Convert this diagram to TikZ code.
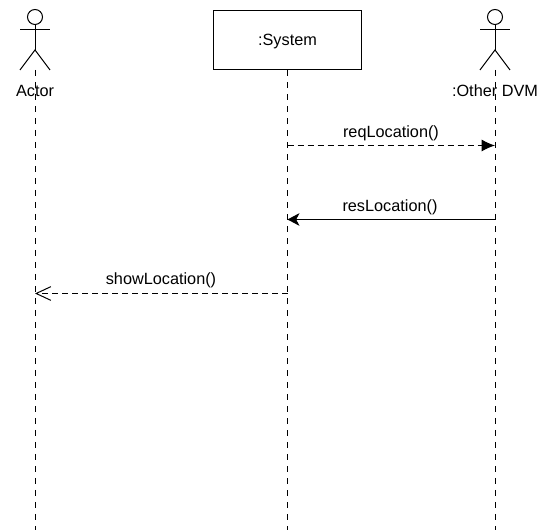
\documentclass[tikz,border=0pt]{standalone}
\usepackage{fontspec}
\setmainfont{Liberation Sans}
\usetikzlibrary{arrows.meta}
\tikzset{
    lifeline/.style={dashed, dash pattern=on 4.5pt off 4.5pt},
    msgtext/.style={font=\fontsize{12.2}{14}\selectfont, inner sep=0pt},
    reqarrow/.style={dashed, dash pattern=on 4.5pt off 3pt, -{Latex[length=10pt,width=9pt]}},
    resarrow/.style={-{Stealth[length=9pt,width=9.5pt,inset=2.5pt]}},
    showarrow/.style={dashed, dash pattern=on 4.5pt off 3pt, -{Straight Barb[length=11pt,width=10.5pt,angle'=50]}}
}
\begin{document}
\begin{tikzpicture}[x=0.75pt, y=-0.75pt, line width=0.75pt]
    \useasboundingbox (0,0) rectangle (551,530);

    % Stick figures
    \foreach \name/\x in {actor/35, other/495} {
        \draw (\x,17) circle (7.5);
        \draw (\x,24.5) -- (\x,50);
        \draw (\x-15,30) -- (\x+15,30);
        \draw (\x-15,70) -- (\x,50) -- (\x+15,70);
        \coordinate (\name-top) at (\x,70);
        \coordinate (\name-bottom) at (\x,530);
    }

    % Box on top
    \node[draw, minimum width=111pt, minimum height=44.5pt, inner sep=0pt,
        text height=11.6pt, text depth=2.6pt,
        font=\fontsize{12.2}{14}\selectfont] (system) at (287.5,40) {:System};
    \coordinate (system-bottom) at (287.5,530);

    % Lifelines
    \draw[lifeline] (actor-top) -- (actor-bottom);
    \draw[lifeline] (other-top) -- (other-bottom);
    \draw[lifeline] (system.south) -- (system-bottom);

    % Names of the figures
    \node[msgtext] (actor-label) at (35,91) {Actor};
    \node[msgtext] (other-label) at (495,91) {:Other DVM};

    % Points on the lifelines
    \coordinate (req-start) at (287.5,145.5);
    \coordinate (req-end) at (495,145.5);
    \coordinate (res-start) at (495,219.5);
    \coordinate (res-end) at (287.5,219.5);
    \coordinate (show-start) at (287.5,293.5);
    \coordinate (show-end) at (35,293.5);

    % Messages
    \draw[reqarrow] (req-start) -- (req-end);
    \draw[resarrow] (res-start) -- (res-end);
    \draw[showarrow] (show-start) -- (show-end);

    % Labels for messages
    \node[msgtext] (req-label) at (391,133) {reqLocation()};
    \node[msgtext] (res-label) at (390,207) {resLocation()};
    \node[msgtext] (show-label) at (161,280) {showLocation()};
\end{tikzpicture}
\end{document}
